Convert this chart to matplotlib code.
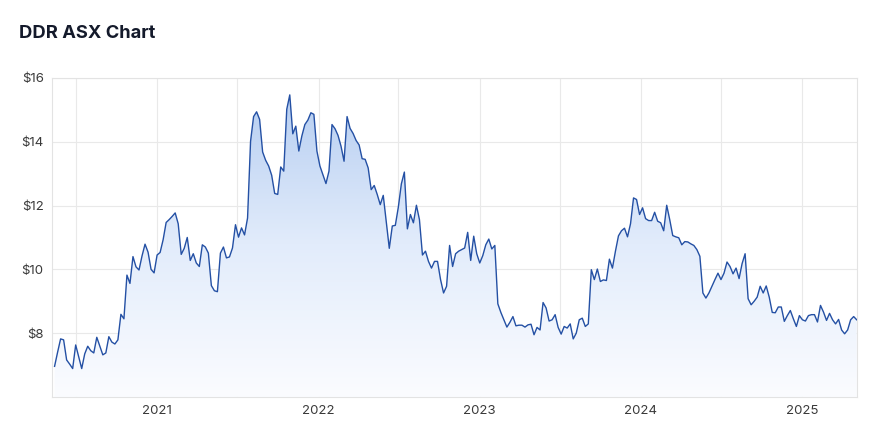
import numpy as np
import pandas as pd
import matplotlib as mpl
import matplotlib.pyplot as plt
import matplotlib.dates as mdates
from matplotlib.colors import LinearSegmentedColormap
from matplotlib.ticker import FuncFormatter
mpl.use("Agg")

title = "DDR ASX Chart"
start_date = "2020-05-13"
end_date = "2025-05-04"
y_ticks = [8, 10, 12, 14, 16]

# closing prices, roughly weekly
prices_a = [6.96, 7.40, 7.82, 7.79, 7.16, 7.03, 6.89, 7.63, 7.26, 6.89, 7.35, 7.59, 7.45, 7.38, 7.87,
            7.59, 7.32, 7.38, 7.89, 7.72, 7.66, 7.79, 8.59, 8.45, 9.82, 9.56, 10.40, 10.08, 9.98, 10.42,
            10.79, 10.54, 10.00, 9.89, 10.45, 10.53, 10.93, 11.47, 11.56, 11.66, 11.77, 11.43, 10.47,
            10.66, 11.00]
prices_b = [10.28, 10.49, 10.20, 10.09, 10.77, 10.70, 10.51, 9.49, 9.33, 9.30, 10.51, 10.70, 10.36,
            10.39, 10.67, 11.40, 11.01, 11.30, 11.08, 11.61, 14.02, 14.79, 14.94, 14.70, 13.68, 13.42,
            13.24, 12.95, 12.38, 12.35, 13.21, 13.08, 15.02, 15.47, 14.25, 14.49, 13.71, 14.18, 14.54,
            14.68, 14.91, 14.86]
prices_c = [13.71, 13.24, 12.97, 12.69, 13.08, 14.54, 14.41, 14.20, 13.86, 13.39, 14.79, 14.42, 14.26,
            14.04, 13.90, 13.47, 13.45, 13.18, 12.50, 12.63, 12.35, 12.03, 12.32, 11.50, 10.66, 11.36,
            11.38, 11.95, 12.68, 13.05, 11.27, 11.72, 11.46, 12.01, 11.56, 10.45, 10.57, 10.25, 10.04,
            10.25, 10.25, 9.68, 9.26, 9.47, 10.75, 10.09, 10.49, 10.57]
prices_d = [10.62, 10.67, 11.16, 10.28, 11.04, 10.49, 10.20, 10.43, 10.77, 10.95, 10.64, 10.75, 8.92,
            8.65, 8.42, 8.19, 8.34, 8.52, 8.23, 8.25, 8.25, 8.19, 8.26, 8.28, 7.95, 8.18, 8.10, 8.96,
            8.79, 8.38, 8.42, 8.58, 8.18, 7.97, 8.21, 8.16, 8.29, 7.82, 8.00, 8.42, 8.47, 8.21, 8.29,
            9.99, 9.68]
prices_e = [10.01, 9.62, 9.67, 9.65, 10.32, 10.04, 10.57, 11.05, 11.21, 11.29, 11.02, 11.43, 12.24,
            12.19, 11.72, 11.93, 11.59, 11.53, 11.53, 11.79, 11.51, 11.46, 11.21, 12.01, 11.56, 11.06,
            11.02, 10.99, 10.77, 10.87, 10.86, 10.80, 10.75, 10.62, 10.41, 9.26, 9.10, 9.26, 9.47, 9.68,
            9.88, 9.68, 9.88]
prices_f = [10.23, 10.09, 9.86, 10.04, 9.71, 10.18, 10.49, 9.08, 8.89, 9.00, 9.13, 9.47, 9.26, 9.48,
            9.13, 8.65, 8.64, 8.82, 8.82, 8.37, 8.55, 8.71, 8.45, 8.21, 8.55, 8.42, 8.38, 8.55, 8.58,
            8.58, 8.35, 8.87, 8.66, 8.40, 8.62, 8.42, 8.29, 8.43, 8.10, 7.98, 8.10, 8.42, 8.52, 8.42]

prices = np.array(prices_a + prices_b + prices_c + prices_d + prices_e + prices_f)
dates = pd.date_range(start_date, end_date, periods = len(prices))

line_color = "#2450a4"
grid_color = "#e9e9e9"
text_color = "#3a3a3a"
plt.rcParams["font.family"] = ["Inter", "DejaVu Sans"]

fig = plt.figure(figsize = (8.8, 4.25), dpi = 100)
ax = fig.add_axes([0.059, 0.066, 0.9145, 0.7505])

ymin, ymax = 6, 16
x0 = dates[0] - pd.Timedelta(days = 6)
x1 = dates[-1]

# gradient area under the line
poly = ax.fill_between(dates, prices, ymin, color = "none", lw = 0)
cmap = LinearSegmentedColormap.from_list("area", ["#fbfcff", "#e2ecfb", "#b5cdf1"])
grad = np.linspace(0, 1, 256).reshape(-1, 1)
img = ax.imshow(grad, cmap = cmap, aspect = "auto", origin = "lower",
                extent = [mdates.date2num(x0), mdates.date2num(x1), ymin, 15.6], zorder = 1)
img.set_clip_path(poly.get_paths()[0], transform = ax.transData)
ax.plot(dates, prices, color = line_color, lw = 1.0, zorder = 3)

ax.set_xlim(x0, x1)
ax.set_ylim(ymin, ymax)
ax.set_yticks(y_ticks)
ax.yaxis.set_major_formatter(FuncFormatter(lambda v, p: "$%d" % v))
ax.xaxis.set_major_locator(mdates.YearLocator())
ax.xaxis.set_major_formatter(mdates.DateFormatter("%Y"))
ax.xaxis.set_minor_locator(mdates.MonthLocator(bymonth = 7))
ax.grid(True, which = "both", color = grid_color, lw = 0.8, zorder = 0)
ax.set_axisbelow(True)
ax.tick_params(axis = "both", which = "both", length = 0, labelsize = 9.5, colors = text_color)
ax.tick_params(axis = "y", pad = 6)
ax.tick_params(axis = "x", pad = 6)
for s in ax.spines.values():
    s.set_color("#e3e3e3")
    s.set_linewidth(0.8)

fig.text(19 / 880, 1 - 33 / 425, title, fontsize = 13.2, fontweight = "bold",
         color = "#141a2b", va = "center", ha = "left")

plt.savefig("out.png", dpi = 100)
plt.close(fig)
